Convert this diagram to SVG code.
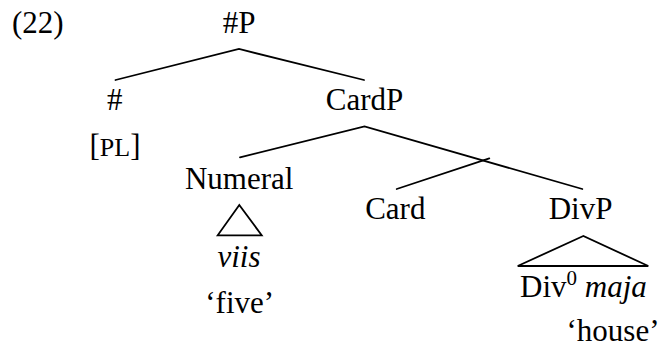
<svg xmlns="http://www.w3.org/2000/svg" width="663" height="348" viewBox="0 0 663 348" font-family="'Liberation Serif', 'DejaVu Serif', serif">
<style>
text{font-family:'Liberation Serif','DejaVu Serif',serif;font-size:31px;fill:#000}
.m{text-anchor:middle}
.it{font-style:italic}
.ln{stroke:#000;stroke-width:1.8;fill:none;stroke-linecap:round;stroke-linejoin:miter}
</style>
<rect width="663" height="348" fill="#fff"/>
<text x="12" y="33">(22)</text>
<g id="connectors">
<polyline class="ln" points="115.5,80 239,49 364,80"/>
<polyline class="ln" points="240,157.3 364.5,126.5 582.3,189"/>
<line class="ln" x1="489.3" y1="158.3" x2="396.7" y2="189"/>
<polygon class="ln" points="239.3,205 217.7,235.3 261.7,235.3"/>
<polygon class="ln" points="583.3,236 517.7,266 648.3,266"/>
</g>
<g id="node-numP"><text class="m" x="239" y="33">#P</text></g>
<g id="node-num"><text class="m" x="114.7" y="109.5">#</text></g>
<g id="node-pl"><text class="m" x="115" y="156">[<tspan font-size="26">PL</tspan>]</text></g>
<g id="node-cardP"><text class="m" x="364.5" y="110">CardP</text></g>
<g id="node-numeral"><text class="m" x="239.2" y="189">Numeral</text></g>
<g id="node-viis"><text class="m it" x="239" y="266.7">viis</text></g>
<g id="node-five"><text class="m" x="239.7" y="313.3">‘five’</text></g>
<g id="node-card"><text class="m" x="395.3" y="219.3">Card</text></g>
<g id="node-divP"><text class="m" x="580.5" y="219.3">DivP</text></g>
<g id="node-div0"><text x="520" y="296.7">Div<tspan font-size="21" dy="-12">0</tspan><tspan dy="12"> </tspan><tspan class="it">maja</tspan></text></g>
<g id="node-house"><text class="m" x="613" y="340.5">‘house’</text></g>
</svg>
